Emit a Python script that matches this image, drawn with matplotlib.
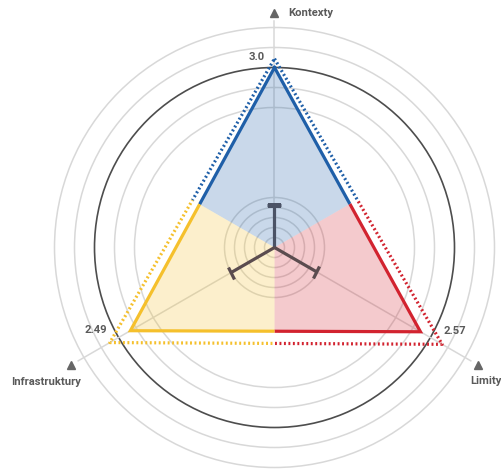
import numpy as np
import matplotlib.pyplot as plt
from matplotlib.patches import Polygon
from matplotlib.markers import MarkerStyle
from matplotlib.transforms import Affine2D

plt.rcParams['font.family'] = ['Roboto', 'DejaVu Sans']

# data (clockwise from top)
axis_names = ["Kontexty", "Limity", "Infrastruktury"]
scores = [3.0, 2.57, 2.49]
score_labels = ["3.0", "2.57", "2.49"]
outline = [3.33, 3.51, 3.38]          # dotted outline
center_bars = [-2.17, -1.95, -1.85]   # small bars at the centre
line_colors = ["#1f5fa8", "#d2232f", "#f5c02c"]
bar_colors = ["#4b5366", "#5b4c4f", "#5b4c4f"]
rings = [1.5, 2.25, 3.0, 3.75, 4.5]
inner_rings = [-3.375, -3.0, -2.625, -2.25, -1.875]

R_MIN, R_MAX = -3.75, 5.25
W, H = 502, 471
cx, cy, R = 274.5, 471 - 247.5, 240

fig = plt.figure(figsize=(W / 100, H / 100), dpi=100)
ax = fig.add_axes([(cx - R) / W, (cy - R) / H, 2 * R / W, 2 * R / H], projection='polar')
ax.set_theta_zero_location('N')
ax.set_theta_direction(-1)
ax.set_ylim(R_MIN, R_MAX)
ax.set_xticks([])
ax.set_yticks(inner_rings + rings)
ax.set_yticklabels([])
ax.spines['polar'].set_visible(False)
ax.set_axisbelow(True)
ax.yaxis.grid(True, color='#d8d8d8', lw=1.1)
for gl, t in zip(ax.yaxis.get_gridlines(), inner_rings + rings):
    if t == 3.0:
        gl.set_color('#4d4d4d')
        gl.set_linewidth(1.2)

angles = np.deg2rad([0, 120, 240])
th = np.append(angles, angles[0])
sc = scores + scores[:1]
ol = outline + outline[:1]

# spokes
for a in angles:
    ax.plot([a, a], [R_MIN, 4.75], color='#d8d8d8', lw=1.1, zorder=0.6)


def sector(a):
    ts = np.linspace(a - np.pi / 3, a + np.pi / 3, 80)
    verts = [(a, R_MIN)] + [(t, R_MAX + 1) for t in ts]
    return Polygon(verts, closed=True, transform=ax.transData)


for i, a in enumerate(angles):
    col = line_colors[i]
    for p in ax.fill(th, sc, color=col, alpha=0.24, lw=0, zorder=1):
        p.set_clip_path(sector(a))
    ln, = ax.plot(th, sc, color=col, lw=2.3, solid_joinstyle='miter', zorder=3)
    ln.set_clip_path(sector(a))
    dl, = ax.plot(th, ol, color=col, lw=2.3, ls=(0, (0.6, 0.8)),
                  dash_capstyle='butt', zorder=3)
    dl.set_clip_path(sector(a))

# centre bars with caps
for a, v, c in zip(angles, center_bars, bar_colors):
    ax.plot([a, a], [R_MIN, v], color=c, lw=2.3, solid_capstyle='butt', zorder=4)
    rot = 180 - np.rad2deg(a)
    ax.plot([a], [v], ls='none', marker=MarkerStyle('_', transform=Affine2D().rotate_deg(rot)),
            ms=10, mew=2.3, color=c, zorder=4)

# axis markers and names
txt = dict(color='#5a5a5a', fontsize=8.1, fontweight='bold')
name_pos = [((10, 0), 'left'), ((-5.6, -11.5), 'left'), ((6.7, -12.2), 'right')]
for a, name, (off, ha) in zip(angles, axis_names, name_pos):
    ax.plot([a], [5.05], marker='^', ms=6, color='#666666', ls='none', clip_on=False)
    ax.annotate(name, xy=(a, 5.05), xytext=off, textcoords='offset points',
                ha=ha, va='center', annotation_clip=False, **txt)

# value labels
val_pos = [((-7.2, 7.9), 'right'), ((16.3, 0.5), 'left'), ((-16.8, 0.5), 'right')]
for a, v, lab, (off, ha) in zip(angles, scores, score_labels, val_pos):
    ax.annotate(lab, xy=(a, v), xytext=off, textcoords='offset points',
                ha=ha, va='center', **txt)

fig.savefig('out.png', dpi=100)
